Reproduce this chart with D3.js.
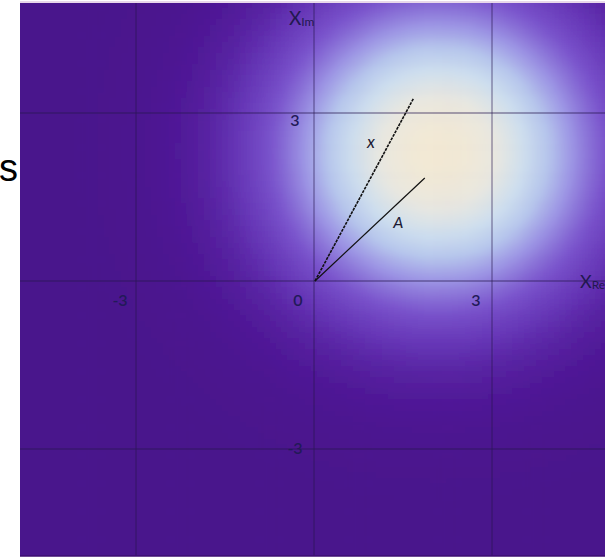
<!DOCTYPE html>
<html>
<head>
<meta charset="utf-8">
<script src="https://cdn.jsdelivr.net/npm/d3@7"></script>
<style>
  html, body { margin: 0; padding: 0; background: #fff; }
  svg { display: block; }
</style>
</head>
<body>
<script>
// Grid / tick positions on both axes
const gridTicks = [-3, 0, 3];
const xTickLabels = ["-3", "0", "3"];
const yTickValues = [3, -3];
const yTickLabels = ["3", "-3"];

// Phasors drawn from the origin (real, imaginary parts)
const vectorNames = ["x", "A"];
const vectorRe = [1.66, 1.85];
const vectorIm = [3.26, 1.84];

// Gaussian intensity field behind the plane
const peakRe = 2.04, peakIm = 2.25;
const spreadRe = 1.7, spreadIm = 1.72;

// Colour ramp for the field intensity
const rampValues = [0, 0.03, 0.135, 0.25, 0.41, 0.55, 0.69, 0.85, 1];
const rampColors = ["#4a128c", "#4f1896", "#6636b6", "#7a54cc", "#9c94e4",
                    "#b6c6ec", "#cddeee", "#e8e7e0", "#f3e9d4"];

const W = 605, H = 559;
const plot = { left: 20, top: 3, right: 605, bottom: 556 };

const xs = d3.scaleLinear().domain([-3, 3]).range([136, 492]);
const ys = d3.scaleLinear().domain([-3, 3]).range([449, 113]);
const color = d3.scaleLinear().domain(rampValues).range(rampColors)
  .interpolate(d3.interpolateRgb).clamp(true);

const svg = d3.select("body").append("svg")
  .attr("width", W).attr("height", H);

const defs = svg.append("defs");
defs.append("clipPath").attr("id", "plotClip")
  .append("rect")
  .attr("x", plot.left).attr("y", plot.top)
  .attr("width", plot.right - plot.left).attr("height", plot.bottom - plot.top);
defs.append("filter").attr("id", "soft")
  .attr("x", "-5%").attr("y", "-5%").attr("width", "110%").attr("height", "110%")
  .append("feGaussianBlur").attr("stdDeviation", 2.5);

// Field cells
const step = 0.1;
const reMin = xs.invert(plot.left) - 0.4, reMax = xs.invert(plot.right) + 0.4;
const imMin = ys.invert(plot.bottom) - 0.4, imMax = ys.invert(plot.top) + 0.4;
const cells = [];
for (let re = reMin; re <= reMax; re += step) {
  for (let im = imMin; im <= imMax; im += step) {
    const dr = re - peakRe, di = im - peakIm;
    const v = Math.exp(-(dr * dr) / (2 * spreadRe * spreadRe) - (di * di) / (2 * spreadIm * spreadIm));
    cells.push({ re, im, v });
  }
}

const field = svg.append("g").attr("clip-path", "url(#plotClip)");
field.append("rect")
  .attr("x", plot.left).attr("y", plot.top)
  .attr("width", plot.right - plot.left).attr("height", plot.bottom - plot.top)
  .attr("fill", rampColors[0]);
field.append("g").attr("filter", "url(#soft)")
  .selectAll("rect").data(cells).join("rect")
  .attr("x", d => xs(d.re))
  .attr("y", d => ys(d.im + step))
  .attr("width", xs(step) - xs(0) + 0.6)
  .attr("height", ys(0) - ys(step) + 0.6)
  .attr("fill", d => color(d.v));

// Grid lines
const grid = svg.append("g").attr("clip-path", "url(#plotClip)");
grid.selectAll("line.v").data(gridTicks).join("line")
  .attr("class", "v")
  .attr("x1", d => xs(d)).attr("x2", d => xs(d))
  .attr("y1", plot.top).attr("y2", plot.bottom)
  .attr("stroke", "rgba(40,24,80,0.5)").attr("stroke-width", 1.3);
grid.selectAll("line.h").data(gridTicks).join("line")
  .attr("class", "h")
  .attr("y1", d => ys(d)).attr("y2", d => ys(d))
  .attr("x1", plot.left).attr("x2", plot.right)
  .attr("stroke", "rgba(40,24,80,0.5)").attr("stroke-width", 1.3);

// Plot frame edges
svg.append("line")
  .attr("x1", plot.left).attr("x2", plot.right)
  .attr("y1", plot.top - 1).attr("y2", plot.top - 1)
  .attr("stroke", "#e8d8ea").attr("stroke-width", 2);
svg.append("line")
  .attr("x1", plot.left).attr("x2", plot.right)
  .attr("y1", plot.bottom).attr("y2", plot.bottom)
  .attr("stroke", "#3c0e70").attr("stroke-width", 1.5);

// Tick labels
const tickFont = "Lato, 'Open Sans', sans-serif";
svg.selectAll("text.xt").data(gridTicks).join("text")
  .attr("class", "xt")
  .attr("x", d => xs(d) - 16).attr("y", ys(0) + 25)
  .attr("text-anchor", "middle")
  .attr("font-family", tickFont).attr("font-size", 16).attr("font-weight", 600)
  .attr("fill", "#221a58")
  .text((d, i) => xTickLabels[i]);
svg.selectAll("text.yt").data(yTickValues).join("text")
  .attr("class", "yt")
  .attr("x", xs(0) - 19).attr("y", d => ys(d) + (d > 0 ? 13 : 5))
  .attr("text-anchor", "middle")
  .attr("font-family", tickFont).attr("font-size", 16).attr("font-weight", 600)
  .attr("fill", "#221a58")
  .text((d, i) => yTickLabels[i]);

// Axis titles
const imTitle = svg.append("text")
  .attr("x", xs(0) - 25).attr("y", 25)
  .attr("font-family", tickFont).attr("fill", "#22184f");
imTitle.append("tspan").attr("font-size", 19).text("X");
imTitle.append("tspan").attr("font-size", 12).attr("dy", 1).text("Im");

const reTitle = svg.append("text")
  .attr("x", 580).attr("y", ys(0) + 7)
  .attr("font-family", tickFont).attr("fill", "#22184f");
reTitle.append("tspan").attr("font-size", 18).text("X");
reTitle.append("tspan").attr("font-size", 12).attr("dy", 1).text("Re");

// Phasor lines
const vectors = vectorNames.map((n, i) => ({ name: n, re: vectorRe[i], im: vectorIm[i] }));
svg.selectAll("line.vec").data(vectors).join("line")
  .attr("class", "vec")
  .attr("x1", xs(0) + 1).attr("y1", ys(0))
  .attr("x2", d => xs(d.re) + 1).attr("y2", d => ys(d.im))
  .attr("stroke", "#111")
  .attr("stroke-width", d => d.name === "x" ? 1.6 : 1.2)
  .attr("stroke-dasharray", d => d.name === "x" ? "3,1" : null);

// Phasor labels, placed along each line
const labelPos = { x: { t: 0.75, dx: -17, dy: 4 }, A: { t: 0.76, dx: 1, dy: 25 } };
svg.selectAll("text.vl").data(vectors).join("text")
  .attr("class", "vl")
  .attr("x", d => xs(d.re * labelPos[d.name].t) + labelPos[d.name].dx)
  .attr("y", d => ys(d.im * labelPos[d.name].t) + labelPos[d.name].dy)
  .attr("text-anchor", "middle")
  .attr("font-family", tickFont).attr("font-style", "italic")
  .attr("font-size", d => d.name === "x" ? 17 : 16)
  .attr("fill", "#1c1a34")
  .text(d => d.name);

// Stray caption letter at the left margin
svg.append("text")
  .attr("x", 18).attr("y", 181)
  .attr("text-anchor", "end")
  .attr("font-family", "'Liberation Sans', Arial, sans-serif")
  .attr("font-size", 38).attr("fill", "#000")
  .text("s");
</script>
</body>
</html>
